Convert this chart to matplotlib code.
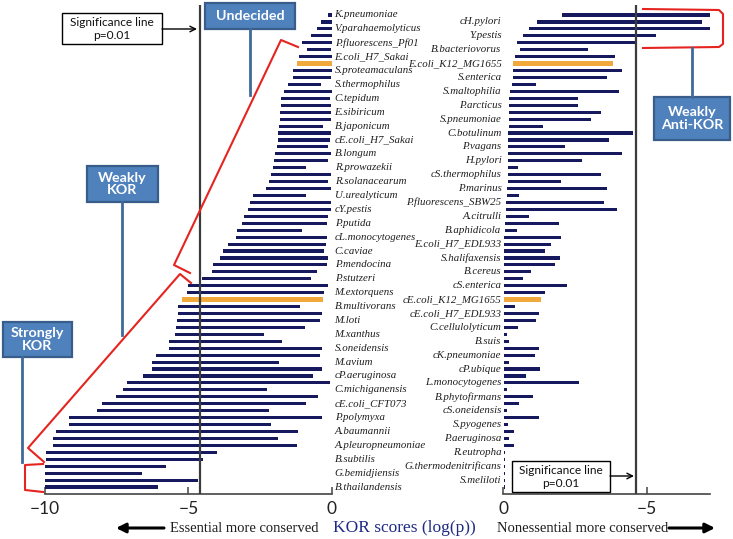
import numpy as np
import matplotlib.pyplot as plt
from matplotlib.patches import Rectangle

# --- data ------------------------------------------------------------------
# KOR scores (log(p)); each row is a bar spanning [start, end]
left_start = [-0.12, -0.37, -0.52, -0.72, -1.05, -0.87, -1.14, -1.22, -1.34, -1.34,
              -1.51, -1.65, -1.77, -1.77, -1.80, -1.80, -1.83, -1.88, -1.88, -1.92,
              -1.98, -2.01, -2.03, -2.13, -2.17, -2.29, -2.76, -2.85, -2.91, -3.05,
              -3.14, -3.29, -3.34, -3.60, -3.78, -3.90, -4.15, -4.17, -4.52, -5.00,
              -5.06, -5.21, -5.35, -5.37, -5.41, -5.44, -5.47, -5.66, -5.66, -6.14,
              -6.28, -6.28, -6.59, -7.13, -7.29, -7.52, -8.00, -8.17, -9.16, -9.16,
              -9.63, -9.73, -9.73, -9.97, -9.97, -10.0, -10.0, -10.0, -10.0]
left_end = [0.0, 0.0, 0.0, 0.0, 0.0, -0.02, 0.0, 0.0, 0.0, -0.02,
            -0.38, 0.0, -0.06, -0.02, -0.02, -0.02, -0.29, -0.02, -0.06, -0.12,
            -0.02, -0.12, -0.91, -0.02, -0.12, -0.02, -0.90, -0.02, -0.02, -0.12,
            -0.15, -1.05, -0.17, -0.20, -0.27, -0.14, -0.17, -0.50, -0.73, -0.12,
            -0.27, -0.31, -1.10, -0.35, -0.41, -0.93, -2.36, -1.74, -0.35, -0.41,
            -1.84, -0.33, -0.64, -0.06, -2.27, -0.47, -0.91, -2.17, -0.35, -2.13,
            -1.16, -1.88, -1.20, -3.99, -4.48, -5.79, -6.63, -4.67, -6.05]
left_labels = ["K.pneumoniae", "V.parahaemolyticus", "P.fluorescens_Pf01", "E.coli_H7_Sakai",
               "S.proteamaculans", "S.thermophilus", "C.tepidum", "E.sibiricum", "B.japonicum",
               "cE.coli_H7_Sakai", "B.longum", "R.prowazekii", "R.solanacearum", "U.urealyticum",
               "cY.pestis", "P.putida", "cL.monocytogenes", "C.caviae", "P.mendocina",
               "P.stutzeri", "M.extorquens", "B.multivorans", "M.loti", "M.xanthus",
               "S.oneidensis", "M.avium", "cP.aeruginosa", "C.michiganensis", "cE.coli_CFT073",
               "P.polymyxa", "A.baumannii", "A.pleuropneumoniae", "B.subtilis",
               "G.bemidjiensis", "B.thailandensis"]
left_highlight = [7, 41]

right_start = [-2.03, -1.16, -0.90, -0.69, -0.46, -0.58, -0.41, -0.35, -0.32, -0.32,
               -0.29, -0.23, -0.20, -0.20, -0.20, -0.20, -0.20, -0.17, -0.17, -0.17,
               -0.17, -0.17, -0.17, -0.17, -0.15, -0.12, -0.12, -0.08, -0.08, -0.08,
               -0.06, -0.06, -0.03, -0.03, -0.03, -0.03, -0.03, -0.02, -0.02, -0.02,
               -0.02, -0.02, -0.02, -0.02, -0.02, -0.02, -0.02, -0.02, -0.02, -0.02,
               -0.02, -0.02, -0.02, -0.02, -0.02, -0.02, -0.02, -0.02, -0.02, -0.02,
               -0.02, -0.02, -0.02, -0.01, -0.01, -0.01, -0.01, -0.01, -0.01]
right_end = [-7.30, -6.89, -7.30, -5.30, -4.65, -2.95, -3.88, -3.82, -4.12, -3.61,
             -1.13, -4.02, -2.58, -2.58, -3.38, -3.04, -1.37, -4.49, -3.66, -2.15,
             -4.12, -2.73, -0.52, -3.39, -1.99, -3.59, -0.54, -3.50, -3.94, -0.89,
             -1.93, -0.46, -1.99, -1.64, -1.45, -1.98, -1.79, -0.97, -0.67, -2.23,
             -1.45, -1.30, -0.42, -1.24, -1.12, -0.52, -0.12, -0.21, -1.24, -1.10,
             -0.20, -1.27, -0.78, -2.64, -0.14, -1.02, -0.54, -0.14, -1.24, -0.15,
             -0.38, -0.20, -0.38, -0.05, -0.05, -0.05, -0.05, -0.05, -0.05]
right_labels = ["cH.pylori", "Y.pestis", "B.bacteriovorus", "E.coli_K12_MG1655",
                "S.enterica", "S.maltophilia", "P.arcticus", "S.pneumoniae", "C.botulinum",
                "P.vagans", "H.pylori", "cS.thermophilus", "P.marinus", "P.fluorescens_SBW25",
                "A.citrulli", "B.aphidicola", "E.coli_H7_EDL933", "S.halifaxensis", "B.cereus",
                "cS.enterica", "cE.coli_K12_MG1655", "cE.coli_H7_EDL933", "C.cellulolyticum",
                "B.suis", "cK.pneumoniae", "cP.ubique", "L.monocytogenes", "B.phytofirmans",
                "cS.oneidensis", "S.pyogenes", "P.aeruginosa", "R.eutropha",
                "G.thermodenitrificans", "S.meliloti"]
right_highlight = [7, 41]

sig = np.log(0.01)

NAVY = "#17195f"
ORANGE = "#f2a93b"
RED = "#e52420"
BLUE = "#4f81bd"
BLUE_EDGE = "#385d8a"
LINK = "#41699a"
W, H = 733, 539

fig = plt.figure(figsize=(W / 100, H / 100), dpi=100)
fig.patch.set_facecolor("white")


def px_axes(x0, x1, y0, y1):
    return fig.add_axes([x0 / W, 1 - y1 / H, (x1 - x0) / W, (y1 - y0) / H])


def draw_panel(ax, start, end, highlight):
    rows = np.arange(len(start))
    start = np.array(start)
    end = np.array(end)
    colors = [ORANGE if r in highlight else NAVY for r in rows]
    heights = [0.62 if r in highlight else 0.45 for r in rows]
    ax.barh(rows, end - start, left=start, height=heights, color=colors, zorder=2)
    ax.axvline(sig, color="#3c3c3c", lw=1.6, zorder=3)
    ax.set_ylim(69.0, -1.44)
    for s in ["top", "left", "right"]:
        ax.spines[s].set_visible(False)
    ax.spines["bottom"].set_color("#444444")
    ax.spines["bottom"].set_linewidth(1.2)
    ax.set_yticks([])
    ax.tick_params(axis="x", direction="in", length=5, width=1.1, color="#444444",
                   pad=5, labelsize=12.5, labelcolor="#222222")
    ax.patch.set_alpha(0)


axL = px_axes(45, 331.7, 5, 494)
draw_panel(axL, left_start, left_end, left_highlight)
axL.set_xlim(-10, 0)
axL.set_xticks([-10, -5, 0])
axL.set_xticklabels(["\u221210", "\u22125", "0"], family="Lato")
for i, lab in enumerate(left_labels):
    axL.text(0.1, 2 * i, lab, ha="left", va="center", fontsize=7.8, style="italic",
             family="Liberation Serif", color="#1e1e1e", clip_on=False)

axR = px_axes(503.3, 710, 5, 494)
draw_panel(axR, right_start, right_end, right_highlight)
axR.set_xlim(0, -7.18)
axR.set_xticks([0, -5])
axR.set_xticklabels(["0", "\u22125"], family="Lato")
for i, lab in enumerate(right_labels):
    axR.text(0.06, 2 * i + 1, lab, ha="right", va="center", fontsize=7.8, style="italic",
             family="Liberation Serif", color="#1e1e1e", clip_on=False)

# --- overlay for annotations (figure pixel coordinates) --------------------
ov = fig.add_axes([0, 0, 1, 1], zorder=10)
ov.set_xlim(0, W)
ov.set_ylim(H, 0)
ov.axis("off")
ov.patch.set_alpha(0)


def box(x0, x1, y0, y1, text, blue=True, size=11):
    if blue:
        ov.add_patch(Rectangle((x0, y0), x1 - x0, y1 - y0, facecolor=BLUE,
                               edgecolor=BLUE_EDGE, lw=1.6))
        ov.text((x0 + x1) / 2, (y0 + y1) / 2, text, ha="center", va="center",
                color="white", fontsize=size, fontweight="bold", family="Lato",
                linespacing=1.1)
    else:
        ov.add_patch(Rectangle((x0, y0), x1 - x0, y1 - y0, facecolor="white",
                               edgecolor="black", lw=1.0))
        ov.text((x0 + x1) / 2, (y0 + y1) / 2 + 0.5, text, ha="center", va="center",
                color="#111111", fontsize=size, family="Lato", linespacing=1.3)


def arrow(x0, x1, y, lw=1.0, scale=10, style="->"):
    ov.annotate("", xy=(x1, y), xytext=(x0, y),
                arrowprops=dict(arrowstyle=style, lw=lw, color="black",
                                mutation_scale=scale, shrinkA=0, shrinkB=0))


# significance boxes
box(62, 162, 13, 44, "Significance line\np=0.01", blue=False, size=8.6)
arrow(162, 197, 29)
box(512, 610, 461, 492, "Significance line\np=0.01", blue=False, size=8.6)
arrow(610, 634, 476)

# red brackets
brackets = [
    [(298, 47), (281, 40), (174, 265), (190, 273)],
    [(191, 283), (180, 274), (28, 448), (44, 462)],
    [(43, 464), (25, 465), (25, 490), (43, 492)],
    [(643, 9), (719, 10), (723, 14), (723, 44), (719, 47), (643, 48)],
]
for pts in brackets:
    xs, ys = zip(*pts)
    ov.plot(xs, ys, color=RED, lw=1.5, solid_joinstyle="round")

# category connectors and boxes
for x, y0, y1 in [(250, 29, 95), (122, 202, 335), (22, 357, 462), (692, 48, 97)]:
    ov.plot([x, x], [y0, y1], color=LINK, lw=2)
box(205, 295, 3, 29, "Undecided", size=10.3)
box(87, 158, 166, 202, "Weakly\nKOR", size=10.3)
box(3, 72, 322, 357, "Strongly\nKOR", size=10.3)
box(654, 730, 97, 140, "Weakly\nAnti-KOR", size=10.3)

# bottom captions
arrow(164, 116, 528, lw=2.2, scale=14, style="-|>")
ov.text(170, 528, "Essential more conserved", ha="left", va="center", fontsize=10.5,
        family="Liberation Serif", color="#1e1e1e")
ov.text(404, 528, "KOR scores (log(p))", ha="center", va="center", fontsize=12.5,
        family="Liberation Serif", color="#1f2a85")
ov.text(497, 528, "Nonessential more conserved", ha="left", va="center", fontsize=10.5,
        family="Liberation Serif", color="#1e1e1e")
arrow(669, 715, 528, lw=2.2, scale=14, style="-|>")

fig.savefig("out.png", dpi=100)
